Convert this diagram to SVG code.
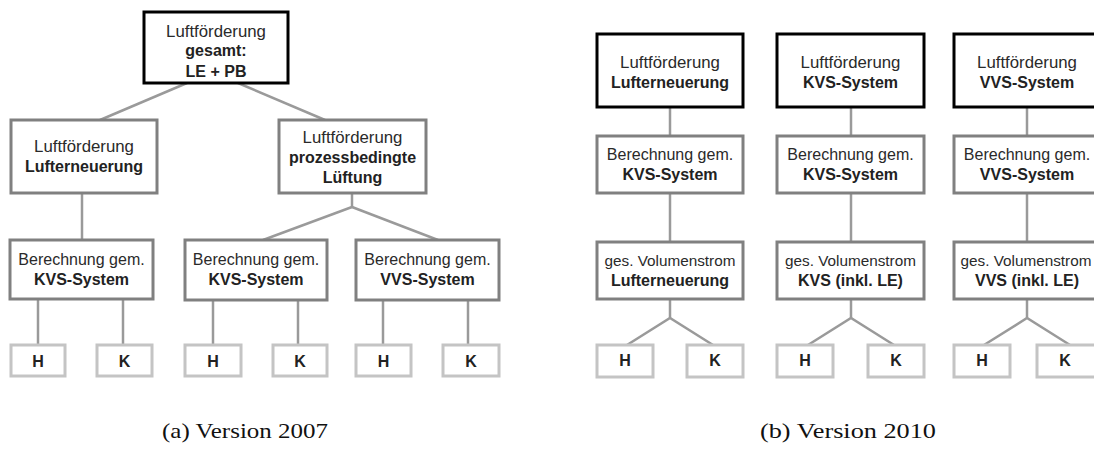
<svg xmlns="http://www.w3.org/2000/svg" width="1094" height="452" viewBox="0 0 1094 452">
  <style>
    .bg { fill: #ffffff; }
    .top { fill: #ffffff; stroke: #000000; stroke-width: 3; }
    .mid { fill: #ffffff; stroke: #808080; stroke-width: 3; }
    .leaf { fill: #ffffff; stroke: #c4c4c4; stroke-width: 3; }
    .conn { fill: none; stroke: #9a9a9a; stroke-width: 2.5; }
    text { font-family: "Liberation Sans", Arial, sans-serif; font-size: 16px; fill: #222222; text-anchor: middle; }
    .n { fill: #2a2a2a; }
    .l { font-size: 16.8px; fill: #2a2a2a; }
    .v { font-size: 15.3px; fill: #2a2a2a; }
    .b { font-weight: bold; }
    .cap { font-family: "Liberation Serif", "Times New Roman", serif; font-size: 21px; fill: #111111; }
  </style>
  <rect class="bg" x="0" y="0" width="1094" height="452"/>

  <!-- connectors -->
  <g id="connectors">
    <!-- 2007 tree -->
    <line class="conn" x1="187" y1="83" x2="100" y2="120"/>
    <line class="conn" x1="238" y1="83" x2="325" y2="120"/>
    <line class="conn" x1="82" y1="193" x2="82" y2="240"/>
    <line class="conn" x1="352" y1="193" x2="352" y2="207"/>
    <line class="conn" x1="352" y1="207" x2="263" y2="240"/>
    <line class="conn" x1="352" y1="207" x2="438" y2="240"/>
    <line class="conn" x1="38" y1="299" x2="38" y2="345"/>
    <line class="conn" x1="123" y1="299" x2="123" y2="345"/>
    <line class="conn" x1="213" y1="300" x2="213" y2="345"/>
    <line class="conn" x1="298" y1="300" x2="298" y2="345"/>
    <line class="conn" x1="383" y1="300" x2="383" y2="345"/>
    <line class="conn" x1="468" y1="300" x2="468" y2="345"/>
    <!-- 2010 columns -->
    <line class="conn" x1="670" y1="107" x2="670" y2="136"/>
    <line class="conn" x1="670" y1="193" x2="670" y2="242"/>
    <line class="conn" x1="670" y1="299" x2="670" y2="318"/>
    <polyline class="conn" points="627,345 670,318 713,345"/>
    <line class="conn" x1="851" y1="107" x2="851" y2="136"/>
    <line class="conn" x1="851" y1="193" x2="851" y2="242"/>
    <line class="conn" x1="851" y1="299" x2="851" y2="318"/>
    <polyline class="conn" points="808,345 851,318 894,345"/>
    <line class="conn" x1="1027" y1="107" x2="1027" y2="136"/>
    <line class="conn" x1="1027" y1="193" x2="1027" y2="242"/>
    <line class="conn" x1="1027" y1="299" x2="1027" y2="318"/>
    <polyline class="conn" points="984,345 1027,318 1070,345"/>
  </g>

  <!-- Version 2007 -->
  <g id="a-total">
    <rect class="top" x="144" y="12" width="144" height="71"/>
    <text class="l" x="216" y="37">Luftförderung</text>
    <text class="b" x="216" y="56">gesamt:</text>
    <text class="b" x="216" y="77">LE + PB</text>
  </g>
  <g id="a-le">
    <rect class="mid" x="11" y="120" width="146" height="73"/>
    <text class="l" x="84" y="152">Luftförderung</text>
    <text class="b" x="84" y="172">Lufterneuerung</text>
  </g>
  <g id="a-pb">
    <rect class="mid" x="279" y="120" width="147" height="73"/>
    <text class="l" x="352.5" y="143">Luftförderung</text>
    <text class="b" x="352.5" y="163">prozessbedingte</text>
    <text class="b" x="352.5" y="183">Lüftung</text>
  </g>
  <g id="a-le-kvs">
    <rect class="mid" x="10" y="240" width="143" height="59"/>
    <text class="n" x="81.5" y="265">Berechnung gem.</text>
    <text class="b" x="81.5" y="285">KVS-System</text>
  </g>
  <g id="a-pb-kvs">
    <rect class="mid" x="185" y="240" width="142" height="60"/>
    <text class="n" x="256" y="265">Berechnung gem.</text>
    <text class="b" x="256" y="285">KVS-System</text>
  </g>
  <g id="a-pb-vvs">
    <rect class="mid" x="356" y="240" width="143" height="60"/>
    <text class="n" x="427.5" y="265">Berechnung gem.</text>
    <text class="b" x="427.5" y="285">VVS-System</text>
  </g>
  <g id="a-h1"><rect class="leaf" x="11" y="345" width="54" height="31"/><text class="b" x="38" y="367">H</text></g>
  <g id="a-k1"><rect class="leaf" x="97" y="345" width="55" height="31"/><text class="b" x="124.5" y="367">K</text></g>
  <g id="a-h2"><rect class="leaf" x="185" y="345" width="56" height="31"/><text class="b" x="213" y="367">H</text></g>
  <g id="a-k2"><rect class="leaf" x="273" y="345" width="54" height="31"/><text class="b" x="300" y="367">K</text></g>
  <g id="a-h3"><rect class="leaf" x="356" y="345" width="55" height="31"/><text class="b" x="383.5" y="367">H</text></g>
  <g id="a-k3"><rect class="leaf" x="443" y="345" width="56" height="31"/><text class="b" x="471" y="367">K</text></g>

  <!-- Version 2010 -->
  <g id="b-le">
    <rect class="top" x="597" y="34" width="146" height="73"/>
    <text class="l" x="670" y="68">Luftförderung</text>
    <text class="b" x="670" y="88">Lufterneuerung</text>
  </g>
  <g id="b-kvs">
    <rect class="top" x="777" y="34" width="147" height="73"/>
    <text class="l" x="850.5" y="68">Luftförderung</text>
    <text class="b" x="850.5" y="88">KVS-System</text>
  </g>
  <g id="b-vvs">
    <rect class="top" x="954" y="34" width="146" height="73"/>
    <text class="l" x="1027" y="68">Luftförderung</text>
    <text class="b" x="1027" y="88">VVS-System</text>
  </g>
  <g id="b-le-calc">
    <rect class="mid" x="597" y="136" width="146" height="57"/>
    <text class="n" x="670" y="160">Berechnung gem.</text>
    <text class="b" x="670" y="180">KVS-System</text>
  </g>
  <g id="b-kvs-calc">
    <rect class="mid" x="777" y="136" width="147" height="57"/>
    <text class="n" x="850.5" y="160">Berechnung gem.</text>
    <text class="b" x="850.5" y="180">KVS-System</text>
  </g>
  <g id="b-vvs-calc">
    <rect class="mid" x="954" y="136" width="146" height="57"/>
    <text class="n" x="1027" y="160">Berechnung gem.</text>
    <text class="b" x="1027" y="180">VVS-System</text>
  </g>
  <g id="b-le-flow">
    <rect class="mid" x="597" y="242" width="146" height="57"/>
    <text class="v" x="670" y="266">ges. Volumenstrom</text>
    <text class="b" x="670" y="286">Lufterneuerung</text>
  </g>
  <g id="b-kvs-flow">
    <rect class="mid" x="777" y="242" width="147" height="57"/>
    <text class="v" x="850.5" y="266">ges. Volumenstrom</text>
    <text class="b" x="850.5" y="286">KVS (inkl. LE)</text>
  </g>
  <g id="b-vvs-flow">
    <rect class="mid" x="954" y="242" width="146" height="57"/>
    <text class="v" x="1026" y="266">ges. Volumenstrom</text>
    <text class="b" x="1027" y="286">VVS (inkl. LE)</text>
  </g>
  <g id="b-h1"><rect class="leaf" x="597" y="345" width="56" height="32"/><text class="b" x="625" y="366">H</text></g>
  <g id="b-k1"><rect class="leaf" x="687" y="345" width="56" height="32"/><text class="b" x="715" y="366">K</text></g>
  <g id="b-h2"><rect class="leaf" x="777" y="345" width="56" height="32"/><text class="b" x="805" y="366">H</text></g>
  <g id="b-k2"><rect class="leaf" x="868" y="345" width="56" height="32"/><text class="b" x="896" y="366">K</text></g>
  <g id="b-h3"><rect class="leaf" x="954" y="345" width="56" height="32"/><text class="b" x="982" y="366">H</text></g>
  <g id="b-k3"><rect class="leaf" x="1037" y="345" width="60" height="32"/><text class="b" x="1065" y="366">K</text></g>

  <!-- captions -->
  <text class="cap" x="245" y="438" textLength="166" lengthAdjust="spacingAndGlyphs">(a) Version 2007</text>
  <text class="cap" x="848" y="438" textLength="176" lengthAdjust="spacingAndGlyphs">(b) Version 2010</text>
</svg>
